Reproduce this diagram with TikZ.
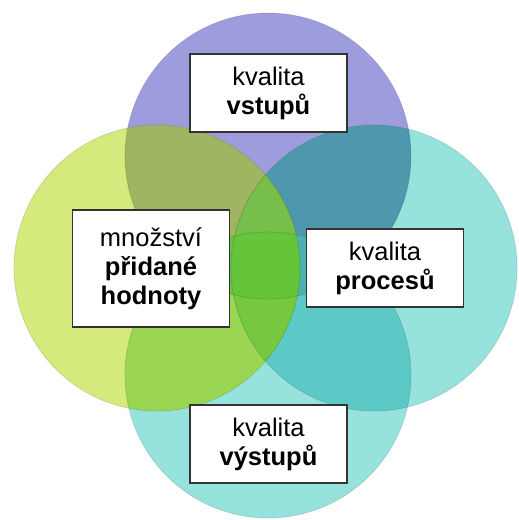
\documentclass[tikz,border=0pt]{standalone}
\usepackage{fontspec}
\setmainfont{Liberation Sans}
\usepackage{xcolor}

\definecolor{topc}{HTML}{9D9CDC}
\definecolor{leftc}{HTML}{D5EA7C}
\definecolor{sidec}{HTML}{96E2DC}
\definecolor{tlc}{HTML}{A0B562}
\definecolor{trc}{HTML}{4F97AC}
\definecolor{lbc}{HTML}{9AD652}
\definecolor{rbc}{HTML}{5CC9C6}
\definecolor{tbc}{HTML}{6FB08A}
\definecolor{lrc}{HTML}{78C24A}
\definecolor{tlrc}{HTML}{78BE4B}
\definecolor{tlbc}{HTML}{74BE48}
\definecolor{trbc}{HTML}{4FB0B4}
\definecolor{lrbc}{HTML}{75C840}
\definecolor{allc}{HTML}{64C53A}

\def\rr{143}

\begin{document}
\begin{tikzpicture}[x=1pt, y=-1pt,
  textbox/.style={draw=black!80, line width=1.1pt, fill=white, align=center, inner sep=0pt,
    minimum width=157pt, minimum height=78pt, font=\fontsize{25.5}{29}\selectfont},
  rim/.style={draw=black, draw opacity=0.12, line width=0.8pt}
]
\useasboundingbox (0,0) rectangle (519,520);
\fill[white] (0,0) rectangle (519,520);

\coordinate (cT) at (268,156);
\coordinate (cL) at (157,268);
\coordinate (cR) at (374,268);
\coordinate (cB) at (268,375);

% single circles
\fill[topc] (cT) circle[radius=\rr];
\fill[leftc] (cL) circle[radius=\rr];
\fill[sidec] (cR) circle[radius=\rr];
\fill[sidec] (cB) circle[radius=\rr];

% pairs
\begin{scope} \clip (cT) circle[radius=\rr]; \fill[tlc] (cL) circle[radius=\rr]; \end{scope}
\begin{scope} \clip (cT) circle[radius=\rr]; \fill[trc] (cR) circle[radius=\rr]; \end{scope}
\begin{scope} \clip (cL) circle[radius=\rr]; \fill[lbc] (cB) circle[radius=\rr]; \end{scope}
\begin{scope} \clip (cR) circle[radius=\rr]; \fill[rbc] (cB) circle[radius=\rr]; \end{scope}
\begin{scope} \clip (cT) circle[radius=\rr]; \fill[tbc] (cB) circle[radius=\rr]; \end{scope}
\begin{scope} \clip (cL) circle[radius=\rr]; \fill[lrc] (cR) circle[radius=\rr]; \end{scope}

% triples
\begin{scope} \clip (cT) circle[radius=\rr]; \clip (cL) circle[radius=\rr]; \fill[tlrc] (cR) circle[radius=\rr]; \end{scope}
\begin{scope} \clip (cT) circle[radius=\rr]; \clip (cL) circle[radius=\rr]; \fill[tlbc] (cB) circle[radius=\rr]; \end{scope}
\begin{scope} \clip (cT) circle[radius=\rr]; \clip (cR) circle[radius=\rr]; \fill[trbc] (cB) circle[radius=\rr]; \end{scope}
\begin{scope} \clip (cL) circle[radius=\rr]; \clip (cR) circle[radius=\rr]; \fill[lrbc] (cB) circle[radius=\rr]; \end{scope}

% all four
\begin{scope}
  \clip (cT) circle[radius=\rr]; \clip (cL) circle[radius=\rr]; \clip (cR) circle[radius=\rr];
  \fill[allc] (cB) circle[radius=\rr];
\end{scope}

\draw[rim] (cT) circle[radius=\rr];
\draw[rim] (cL) circle[radius=\rr];
\draw[rim] (cR) circle[radius=\rr];
\draw[rim] (cB) circle[radius=\rr];

\node[textbox] (vstupy) at (268.5,93) {kvalita\\\textbf{vstupů}};
\node[textbox, minimum height=117pt] (pridana) at (151,268.5) {množství\\\textbf{přidané}\\\textbf{hodnoty}};
\node[textbox] (procesy) at (385,268) {kvalita\\\textbf{procesů}};
\node[textbox] (vystupy) at (268.5,444) {kvalita\\\textbf{výstupů}};
\end{tikzpicture}
\end{document}
